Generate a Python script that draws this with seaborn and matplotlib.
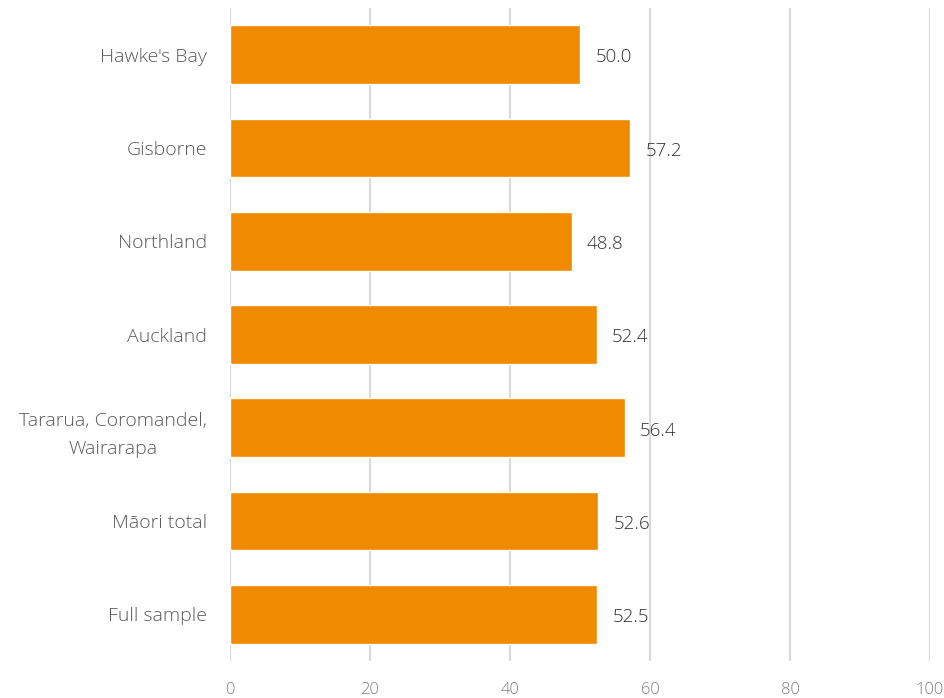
import pandas as pd
import matplotlib.pyplot as plt
import seaborn as sns

# --- data ---
regions = ["Hawke's Bay", "Gisborne", "Northland", "Auckland",
           "Tararua, Coromandel,\nWairarapa", "Māori total", "Full sample"]
values = [50.0, 57.2, 48.8, 52.4, 56.4, 52.6, 52.5]
x_ticks = [0, 20, 40, 60, 80, 100]

BAR_COLOR = "#F08A00"
GRID_COLOR = "#D9D9D9"

df = pd.DataFrame({"region": regions, "value": values})

sns.set_style("white")
plt.rcParams['font.family'] = ['Open Sans', 'DejaVu Sans']
plt.rcParams['font.weight'] = 'light'

fig = plt.figure(figsize=(9.45, 6.98), dpi=100)
ax = fig.add_axes([230 / 945, 1 - 661 / 698, 700 / 945, 653 / 698])

sns.barplot(data=df, x="value", y="region", orient="h", color=BAR_COLOR,
            saturation=1, width=0.63, ax=ax)

ax.set_xlim(0, 100)
ax.set_xticks(x_ticks)
ax.set_xticklabels([str(t) for t in x_ticks], fontsize=12, color="#7F7F7F")
ax.tick_params(axis="x", length=0, pad=15)
ax.tick_params(axis="y", length=0, pad=16.5, labelsize=14, labelcolor="#595959")
for lbl in ax.get_yticklabels():
    lbl.set_multialignment("center")
    lbl.set_linespacing(1.75)
ax.set_xlabel("")
ax.set_ylabel("")

ax.grid(axis="x", color=GRID_COLOR, linewidth=1.5)
ax.set_axisbelow(True)
for s in ax.spines.values():
    s.set_visible(False)

for i, v in enumerate(values):
    ax.annotate(f"{v:.1f}", xy=(v, i), xytext=(11, -2), textcoords="offset points",
                va="center", ha="left", fontsize=13.5, color="#333333")

fig.savefig("out.png", dpi=100)
plt.close()
